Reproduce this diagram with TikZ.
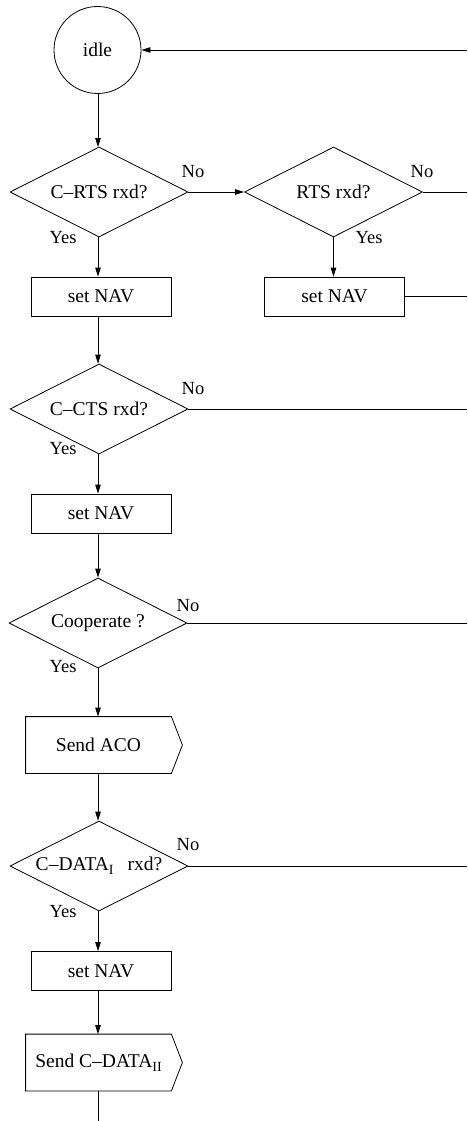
\documentclass[tikz,border=0pt]{standalone}
\usepackage{fontspec}
\setmainfont{Liberation Serif}
\usetikzlibrary{shapes.geometric,arrows.meta}

\tikzset{
  base/.style={font=\fontsize{19.5}{21}\selectfont, line width=0.8pt},
  flow/.style={draw, line width=0.8pt, -{Triangle[length=9pt,width=5.5pt]}},
  wire/.style={draw, line width=0.8pt},
  statecirc/.style={base, circle, draw, minimum size=87pt, inner sep=0pt},
  decision/.style={base, diamond, draw, aspect=1.98, inner sep=0pt, minimum width=178pt, minimum height=90pt},
  procbox/.style={base, rectangle, draw, minimum width=140pt, minimum height=39pt, inner sep=0pt},
  sendbox/.style={base, rectangle, minimum width=145pt, minimum height=56pt, inner sep=0pt},
  answer/.style={font=\fontsize{18.5}{20}\selectfont, inner sep=0pt},
}
\newcommand{\sub}[1]{\raisebox{-0.45ex}{\fontsize{14}{14}\selectfont #1}}
\newcommand{\sendoutline}[1]{%
  \draw[line width=0.8pt] (#1.north west) -- (#1.north east) -- ([xshift=11pt]#1.east)
    -- (#1.south east) -- (#1.south west) -- cycle;}

\begin{document}
\begin{tikzpicture}[x=1pt,y=-1pt]
\useasboundingbox (0,0) rectangle (467,1121);

% states and decisions of the main column
\node[statecirc] (idle) at (97.5,50) {idle};
\node[decision] (crts) at (99,192) {C--RTS rxd?};
\node[decision] (rts)  at (333.5,192) {RTS rxd?};
\node[procbox] (nav1) at (101,296.5) {set NAV\hspace{16pt}};
\node[procbox] (nav2) at (334.5,296.5) {set NAV};
\node[decision] (ccts) at (99,409) {C--CTS rxd?};
\node[procbox] (nav3) at (101,513.5) {set NAV\hspace{16pt}};
\node[decision] (coop) at (98,623) {Cooperate ?};
\node[sendbox] (aco) at (98.5,745) {Send ACO\hspace{12pt}};
\node[decision] (cdata) at (99,866) {C--DATA\sub{I}\hspace{14pt}rxd?};
\node[procbox] (nav4) at (101,971) {set NAV\hspace{16pt}};
\node[sendbox] (send2) at (98.5,1062.5) {Send C--DATA\sub{II}};
\sendoutline{aco}
\sendoutline{send2}

% free ends at the right margin and the bottom
\coordinate (ret)   at (467,50);
\coordinate (rtsno) at (467,192);
\coordinate (nav2r) at (467,296.5);
\coordinate (cctsno) at (467,409);
\coordinate (coopno) at (467,623);
\coordinate (cdatano) at (467,866);
\coordinate (down) at (98,1121);

% connectors
\draw[flow] (ret) -- (idle.east);
\draw[flow] (idle.south -| 98,0) -- (98,147);
\draw[flow] (crts.east) -- (rts.west);
\draw[wire] (rts.east) -- (rtsno);
\draw[flow] (rts.south) -- (nav2.north -| rts.south);
\draw[wire] (nav2.east) -- (nav2r);
\draw[flow] (crts.south -| 98,0) -- (nav1.north -| 98,0);
\draw[flow] (nav1.south -| 98,0) -- (ccts.north -| 98,0);
\draw[wire] (ccts.east) -- (cctsno);
\draw[flow] (ccts.south -| 98,0) -- (nav3.north -| 98,0);
\draw[flow] (nav3.south -| 98,0) -- (coop.north -| 98,0);
\draw[wire] (coop.east) -- (coopno);
\draw[flow] (coop.south -| 98,0) -- (aco.north -| 98,0);
\draw[flow] (aco.south -| 98,0) -- (cdata.north -| 98,0);
\draw[wire] (cdata.east) -- (cdatano);
\draw[flow] (cdata.south -| 98,0) -- (nav4.north -| 98,0);
\draw[flow] (nav4.south -| 98,0) -- (send2.north -| 98,0);
\draw[wire] (send2.south -| 98,0) -- (down);

% branch labels
\node[answer] (crtsN) at (193,172) {No};
\node[answer] (crtsY) at (63,238) {Yes};
\node[answer] (rtsN)  at (422,172) {No};
\node[answer] (rtsY)  at (369,238) {Yes};
\node[answer] (cctsN) at (193,389) {No};
\node[answer] (cctsY) at (63,449) {Yes};
\node[answer] (coopN) at (188,606) {No};
\node[answer] (coopY) at (63,667) {Yes};
\node[answer] (cdataN) at (188,845) {No};
\node[answer] (cdataY) at (63,912) {Yes};
\end{tikzpicture}
\end{document}
